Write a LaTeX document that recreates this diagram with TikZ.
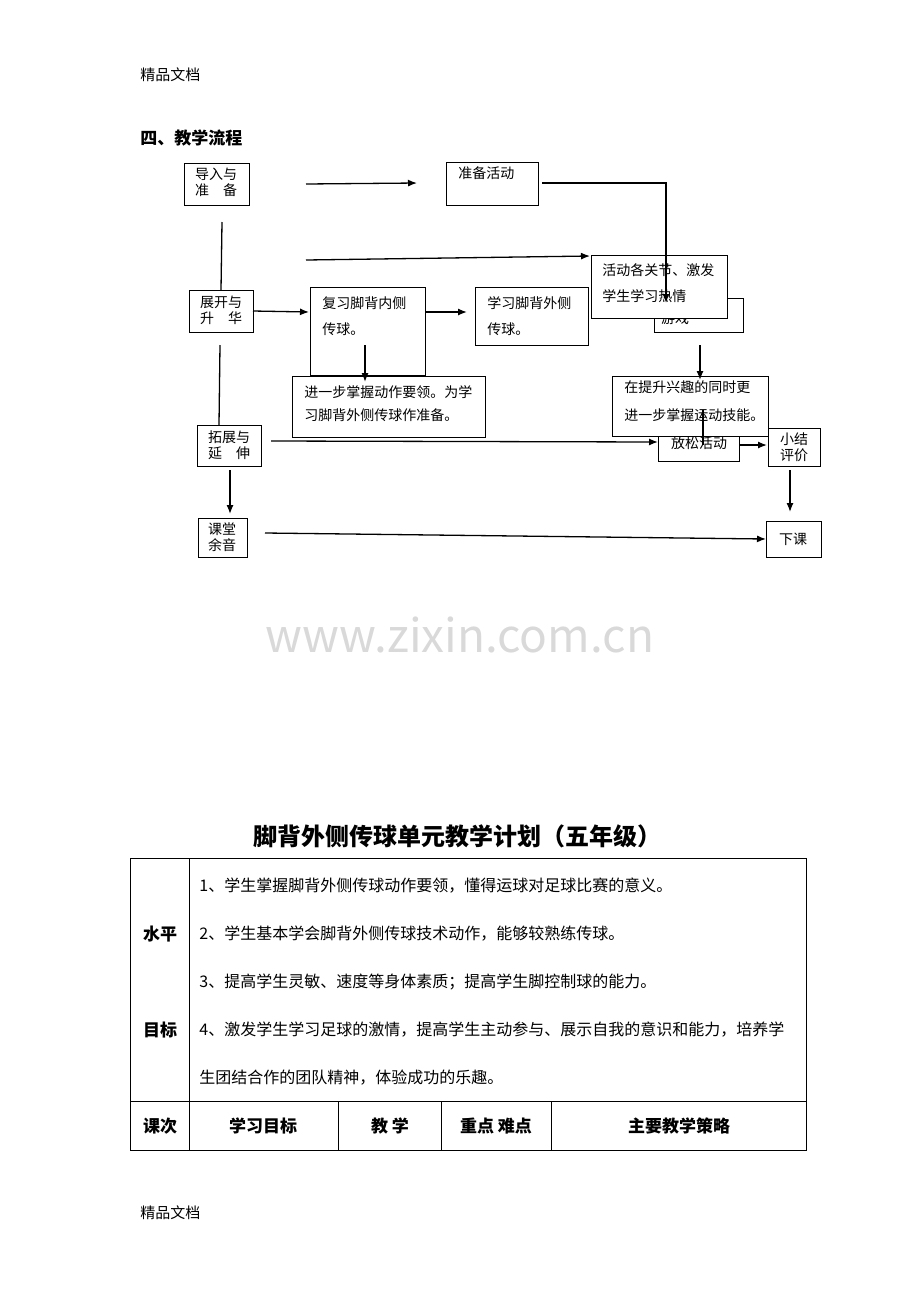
\documentclass[tikz,border=0pt]{standalone}
\usepackage{fontspec}
\setmainfont{Noto Sans CJK SC}
\usetikzlibrary{positioning,arrows.meta}
\begin{document}
\begin{tikzpicture}[x=1pt,y=-1pt,thick,
  box/.style={draw,fill=white,line width=1pt},
  txt/.style={font=\fontsize{14}{16}\selectfont,align=left,inner sep=0pt},
  arr/.style={-{Latex[length=9pt,width=7pt]},line width=1.3pt},
  lin/.style={line width=1.3pt},
  cell/.style={font=\fontsize{16}{19}\selectfont,inner sep=0pt},
  hcell/.style={font=\bfseries\fontsize{17}{20}\selectfont,inner sep=0pt}]
\useasboundingbox (0,0) rectangle (920,1302);

% header texts
\node[txt,font=\fontsize{15}{17}\selectfont,anchor=west] (top) at (140,75) {精品文档};
\node[txt,font=\fontsize{15}{17}\selectfont,anchor=west] (bot) at (140,1213) {精品文档};
\node[txt,font=\bfseries\fontsize{17}{20}\selectfont,anchor=west] (sec) at (140,138) {四、教学流程};

% Define boxes
\draw[box] (184,163) rectangle (249,205);
\node[txt] (dr) at (216,182) {导入与\\准\quad 备};
\draw[box] (446,162) rectangle (538,205);
\node[txt,anchor=north west] (zb) at (458,166) {准备活动};
\draw[box] (189,290) rectangle (253,332);
\node[txt] (zk) at (221,310) {展开与\\升\quad 华};
\draw[box] (310,287) rectangle (425,375);
\node[txt,anchor=north west,font=\fontsize{14}{26}\selectfont] (fx) at (322,296) {复习脚背内侧\\传球。};
\draw[box] (475,287) rectangle (588,345);
\node[txt,anchor=north west,font=\fontsize{14}{26}\selectfont] (xx) at (487,296) {学习脚背外侧\\传球。};
\draw[box] (654,298) rectangle (743,332);
\node[txt] (yx) at (675,318) {游戏};
\draw[box] (591,255) rectangle (727,318);
\node[txt,anchor=north west,font=\fontsize{14}{26}\selectfont] (hd) at (602,263) {活动各关节、激发\\学生学习热情};
\draw[box] (292,376) rectangle (485,437);
\node[txt,anchor=north west,font=\fontsize{14}{23}\selectfont] (jy) at (304,385) {进一步掌握动作要领。为学\\习脚背外侧传球作准备。};
\draw[box] (612,376) rectangle (768,436);
\node[txt,anchor=north west,font=\fontsize{14}{28}\selectfont] (ts) at (624,380) {在提升兴趣的同时更\\进一步掌握运动技能。};
\draw[box] (197,425) rectangle (261,466);
\node[txt] (tz) at (229,445) {拓展与\\延\quad 伸};
\draw[box,fill=none] (658,436) rectangle (739,461);
\node[txt] (fs) at (699,443) {放松活动};
\draw[box] (768,428) rectangle (820,466);
\node[txt,align=center] (xj) at (794,447) {小结\\评价};
\draw[box] (198,518) rectangle (247,557);
\node[txt,align=center] (kt) at (222,537) {课堂\\余音};
\draw[box] (766,521) rectangle (821,557);
\node[txt] (xk) at (793,539) {下课};

% connectors
\coordinate (a1) at (306,184); \coordinate (a2) at (417,183);
\coordinate (b1) at (222,222); \coordinate (b2) at (221,290);
\coordinate (c1) at (306,260); \coordinate (c2) at (590,256);
\coordinate (d1) at (542,183); \coordinate (d2) at (666,183); \coordinate (d3) at (666,303);
\coordinate (e1) at (253,311); \coordinate (e2) at (309,312);
\coordinate (f1) at (425,312); \coordinate (f2) at (467,312);
\coordinate (g1) at (365,345); \coordinate (g2) at (365,382);
\coordinate (h1) at (700,345); \coordinate (h2) at (700,380);
\coordinate (i1) at (220,345); \coordinate (i2) at (219,425);
\coordinate (j1) at (271,441); \coordinate (j2) at (658,442);
\coordinate (k1) at (703,410); \coordinate (k2) at (703,445);
\coordinate (l1) at (739,445); \coordinate (l2) at (767,445);
\coordinate (m1) at (790,470); \coordinate (m2) at (790,512);
\coordinate (n1) at (230,470); \coordinate (n2) at (230,514);
\coordinate (o1) at (265,533); \coordinate (o2) at (766,539);
\draw[arr] (a1) -- (a2);
\draw[lin] (b1) -- (b2);
\draw[arr] (c1) -- (c2);
\draw[arr] (d1) -- (d2) -- (d3);
\draw[arr] (e1) -- (e2);
\draw[arr] (f1) -- (f2);
\draw[arr] (g1) -- (g2);
\draw[arr] (h1) -- (h2);
\draw[lin] (i1) -- (i2);
\draw[arr] (j1) -- (j2);
\draw[lin] (k1) -- (k2);
\draw[arr] (l1) -- (l2);
\draw[arr] (m1) -- (m2);
\draw[arr] (n1) -- (n2);
\draw[arr] (o1) -- (o2);

% watermark
\node[font=\fontsize{46}{50}\selectfont,text=black!15,inner sep=0pt] (wm) at (460,635) {www.zixin.com.cn};

% plan table
\node[font=\bfseries\fontsize{24}{28}\selectfont,inner sep=0pt] (title) at (457,836) {脚背外侧传球单元教学计划（五年级）};
\draw[line width=1pt] (130,858) rectangle (806,1150);
\draw[line width=1pt] (189,858) -- (189,1150);
\draw[line width=1pt] (130,1101) -- (806,1101);
\foreach \cx in {338,441,551} \draw[line width=1pt] (\cx,1101) -- (\cx,1150);
\node[hcell] (sp) at (160,934) {水平};
\node[hcell] (mb) at (160,1030) {目标};
\foreach \t [count=\i] in {1、学生掌握脚背外侧传球动作要领，懂得运球对足球比赛的意义。,
  2、学生基本学会脚背外侧传球技术动作，能够较熟练传球。,
  3、提高学生灵敏、速度等身体素质；提高学生脚控制球的能力。,
  4、激发学生学习足球的激情，提高学生主动参与、展示自我的意识和能力，培养学,
  生团结合作的团队精神，体验成功的乐趣。}
  \node[cell,anchor=west] (r\i) at (199,838+48*\i) {\t};
\node[hcell] (kc) at (160,1126) {课次};
\node[hcell] (xm) at (263,1126) {学习目标};
\node[hcell] (js) at (390,1126) {教\ 学};
\node[hcell] (zd) at (496,1126) {重点\ 难点};
\node[hcell] (cl) at (679,1126) {主要教学策略};
\end{tikzpicture}
\end{document}
